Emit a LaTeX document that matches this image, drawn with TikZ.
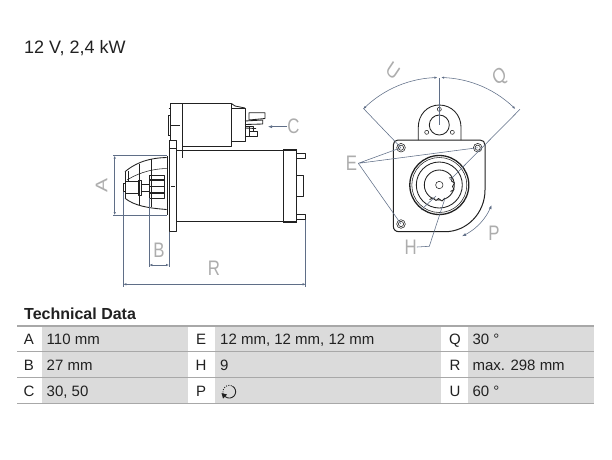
\documentclass[tikz,border=0pt]{standalone}
\usepackage{fontspec}
\setmainfont{Liberation Sans}
\usetikzlibrary{arrows.meta}
\definecolor{ink}{gray}{0.13}
\definecolor{dimc}{RGB}{95,110,135}
\definecolor{lab}{gray}{0.68}
\definecolor{cellg}{gray}{0.86}
\definecolor{ruleg}{gray}{0.66}
\tikzset{
 part/.style={draw=ink,line width=0.85pt,line join=round},
 thin part/.style={draw=ink,line width=0.55pt},
 heavy/.style={draw=ink,line width=1.3pt},
 dimline/.style={draw=dimc,line width=0.55pt},
 dimarrow/.style={dimline,{Latex[length=3pt,width=2.4pt]}-{Latex[length=3pt,width=2.4pt]}},
 leader/.style={dimline},
 biglabel/.style={text=lab,font=\fontsize{21}{21}\selectfont,inner sep=0pt,xscale=0.8},
 cell/.style={fill=cellg,draw=none},
 rulel/.style={draw=ruleg,line width=1.4pt},
 key/.style={text=ink,font=\fontsize{15}{17}\selectfont,inner sep=0pt,anchor=base},
 val/.style={text=ink,font=\fontsize{15}{17}\selectfont,inner sep=0pt,anchor=base west},
}
\begin{document}
\begin{tikzpicture}[x=1pt,y=-1pt]
\useasboundingbox (0,0) rectangle (612,459);
\fill[white] (0,0) rectangle (612,459);
\node[anchor=base west,text=ink,inner sep=0pt,font=\fontsize{18}{20}\selectfont] (title) at (24,53.5) {12 V, 2,4 kW};

% ---------- side view: solenoid
\draw[part] (170,103.7) -- (231.7,103.7) -- (231.7,146) -- (182,146);
\draw[part] (170,103.7) -- (170,140);
\draw[part] (182,103.7) -- (182,157.5);
\draw[part] (231.7,108) -- (245,108) -- (245,141.7) -- (231.7,141.7);
\draw[part] (231.7,103.7) -- (235,106) -- (245,108);
\draw[thin part] (168.5,108) -- (170,108) (168.5,115) rectangle (170,135);
\draw[thin part] (170,125) -- (180,125);
\draw[part] (249,112.7) -- (265,112.7) -- (265,118.5) -- (249,120) -- cycle;
\draw[part] (245,121) -- (262.7,120) -- (262.7,124) -- (245,124.5);
\draw[part] (245,126) -- (253,126) -- (253,131) (249,127) -- (249,131.5);
\draw[part] (249,131.7) -- (257.7,131.7) -- (257.7,136.7) -- (249,136.7) -- cycle;
\draw[part] (245,136.5) -- (250,136.5) (245,128) -- (256,128.5);

% ---------- side view: motor
\draw[part] (169,140) rectangle (176.7,231.7);
\draw[thin part] (169,148) -- (176,148) (171,186) -- (175,186);
\draw[part] (176.7,150.3) -- (283.3,150.3);
\draw[part] (176.7,221.7) -- (283.3,221.7);
\draw[heavy] (283.3,150) rectangle (296.7,222);
\draw[part] (296.7,153.3) -- (305.7,153.3) -- (305.7,158.3) -- (296.7,158.3);
\draw[part] (296.7,214.3) -- (305.7,214.3) -- (305.7,219.3) -- (296.7,219.3);
\draw[part] (296.7,175) -- (303.3,175) -- (303.3,196.7) -- (296.7,196.7);

% ---------- side view: drive nose
\draw[heavy] (167.5,156) -- (167.5,215);
\draw[part] (125,171.7) .. controls (133,165) and (145,158) .. (166.7,157.5);
\draw[part] (125,198.3) .. controls (135,206) and (148,208) .. (166.7,209.5);
\draw[part] (125,171.7) -- (125,198.3);
\draw[thin part] (127,180) .. controls (135,175) and (148,169) .. (166.7,168.5);
\draw[thin part] (139,163.5) -- (139,205) (151.7,159) -- (151.7,207) (128,171) -- (128,181);
\draw[part] (125,181.7) -- (138.3,181.7) -- (138.3,193.3) -- (125,193.3);
\draw[part] (123.3,183) rectangle (125,191.5);
\draw[part] (138.3,180) rectangle (141.5,195);
\draw[part] (141.5,184) -- (149.5,184) (141.5,191) -- (149.5,191);
\draw[part] (149.3,175) rectangle (164,198.5);
\draw[line width=1.5pt,draw=ink] (150,180) -- (164,180) (150,186.5) -- (164,186.5) (150,193) -- (164,193);

% ---------- side view: dimensions
\coordinate (aT) at (113,155.7); \coordinate (aTe) at (167,155.7);
\coordinate (aB) at (113,215); \coordinate (aBe) at (167,215);
\coordinate (aTa) at (114.7,155.7); \coordinate (aBa) at (114.7,215);
\draw[dimline] (aT) -- (aTe) (aB) -- (aBe);
\draw[dimarrow] (aTa) -- (aBa);
\coordinate (bL) at (149.3,265); \coordinate (bR) at (169,265);
\coordinate (bLt) at (149.3,198); \coordinate (bRt) at (169,232);
\draw[dimline] (bLt) -- (149.3,267) (bRt) -- (169,267);
\draw[dimarrow] (bL) -- (bR);
\coordinate (rL) at (123.3,284.3); \coordinate (rR) at (305.7,284.3);
\coordinate (rLt) at (123.3,192); \coordinate (rRt) at (305.7,219.5);
\draw[dimline] (rLt) -- (123.3,286.5) (rRt) -- (305.7,286.5);
\draw[dimarrow] (rL) -- (rR);
\node[biglabel,rotate=90] (lA) at (101.7,185) {A};
\node[biglabel] (lB) at (159,250) {B};
\node[biglabel] (lR) at (214,268) {R};
\node[biglabel] (lC) at (293.5,126.7) {C};
\coordinate (cTip) at (268,126.7); \coordinate (cEnd) at (287,126.7);
\draw[dimline,-{Latex[length=4pt,width=3pt]}] (cEnd) -- (cTip);

% ---------- end view: housing
\draw[part] (418.3,140) -- (418.3,127) .. controls (418.3,115) and (427,105) .. (439.3,105)
  .. controls (451.7,105) and (461,115) .. (461,127) -- (461,140);
\draw[part] (439.3,125) circle[radius=10];
\draw[thin part] (439.3,109.3) circle[radius=2] (426.7,132.3) circle[radius=2] (452.3,132.3) circle[radius=2];
\draw[part,line width=1pt] (398,140) -- (480,140) .. controls (483,140) and (485,142) .. (485,145)
  -- (485,190) .. controls (485,213) and (467,231.7) .. (445,231.7)
  -- (399,231.7) .. controls (395.5,231.7) and (393.3,229.5) .. (393.3,226)
  -- (393.3,145) .. controls (393.3,142) and (395,140) .. (398,140) -- cycle;
\foreach \hx/\hy in {401/147.7,477.7/147.7,401/224}{
  \draw[thin part] (\hx,\hy) circle[radius=4.3];
  \draw[thin part] (\hx,\hy) circle[radius=2.6];
}
\draw[heavy] (439.3,185) circle[radius=29.5];
\draw[thin part] (439.3,185) circle[radius=27.5];
\draw[part] (439.3,185) circle[radius=23];
\draw[part] (439.3,185) circle[radius=15];
\draw[thin part] (439.3,185) circle[radius=3.7];
% pinion teeth
\draw[part,fill=white] (449,178) -- (452.5,177.5) -- (451.5,181) -- (454.5,183) -- (452.5,186.5) -- (454,189.5) -- (450.5,191.5);
\draw[part,fill=white] (445,198) -- (442,201) -- (438.5,198.5) -- (436,200.5) -- (433,198) -- (429.5,199.5);

% ---------- end view: dimension lines
\coordinate (uEnd) at (363.3,108.3);
\coordinate (qEnd) at (520,109.3);
\coordinate (arcTop) at (439.3,78);
\coordinate (h1) at (401,147.7); \coordinate (h2) at (477.7,147.7); \coordinate (h3) at (401,224);
\draw[leader] (uEnd) -- (h1);
\draw[leader] (qEnd) -- (450,180);
\draw[leader] (421,210) -- (436,196);
\draw[leader] (arcTop) -- (439.3,125);
\draw[dimline,{Latex[length=3pt,width=2.4pt]}-{Latex[length=3pt,width=2.4pt]}]
  plot[domain=225:269,samples=24] ({439.3+107.5*cos(\x)},{185+107.5*sin(\x)});
\draw[dimline,{Latex[length=3pt,width=2.4pt]}-{Latex[length=3pt,width=2.4pt]}]
  plot[domain=271:315,samples=24] ({439.3+107.5*cos(\x)},{185+107.5*sin(\x)});
\node[biglabel,rotate=-40] (lU) at (393,70.7) {U};
\node[biglabel,rotate=35] (lQ) at (500,77) {Q};
\node[biglabel] (lE) at (351.5,163) {E};
\coordinate (eJoin) at (358.3,163.3);
\draw[leader] (eJoin) -- (h1) (eJoin) -- (h2) (eJoin) -- (h3);
\node[biglabel] (lH) at (410.7,247) {H};
\coordinate (hTip) at (445,198.3); \coordinate (hKnee) at (429.3,246.3);
\draw[leader] (lH.east) -- (hKnee) -- (hTip);
\node[biglabel] (lP) at (494,233) {P};
\draw[dimline,{Latex[length=4pt,width=3pt]}-{Latex[length=4pt,width=3pt]}]
  plot[domain=21:66,samples=24] ({439.3+56*cos(\x)},{185+56*sin(\x)});

% ---------- table
\node[anchor=base west,inner sep=0pt,text=ink,font=\bfseries\fontsize{16}{18}\selectfont] (tech) at (24,319.5) {Technical Data};
\fill[cell] (42.3,326) rectangle (187.7,403.3);
\fill[cell] (215,326) rectangle (440.7,403.3);
\fill[cell] (468.3,326) rectangle (594,403.3);
\foreach \ry in {326,351.7,377.7,403.3}{\draw[rulel] (17,\ry) -- (594,\ry);}

\node[key] (kA) at (29,344.5) {A};   \node[val] (vA) at (46.5,344.5) {110 mm};
\node[key] (kB) at (29,370.5) {B};   \node[val] (vB) at (46.5,370.5) {27 mm};
\node[key] (kC) at (29,396) {C};   \node[val] (vC) at (46.5,396) {30, 50};
\node[key] (kE) at (201,344.5) {E};  \node[val] (vE) at (220,344.5) {12 mm, 12 mm, 12 mm};
\node[key] (kH) at (201,370.5) {H};  \node[val] (vH) at (220,370.5) {9};
\node[key] (kP) at (201,396) {P};
\node[key] (kQ) at (455,344.5) {Q};  \node[val] (vQ) at (472.3,344.5) {30 °};
\node[key] (kR) at (455,370.5) {R};  \node[val] (vR) at (472.3,370.5) {max. 298 mm};
\node[key] (kU) at (455,396) {U};  \node[val] (vU) at (472.3,396) {60 °};
% rotation icon
\draw[draw=ink,line width=0.9pt]
  plot[domain=-60:130,samples=24] ({229.3+6.3*cos(\x)},{391.7+6.3*sin(\x)});
\draw[draw=ink,line width=0.9pt,dash pattern=on 1pt off 1.4pt]
  plot[domain=130:300,samples=24] ({229.3+6.3*cos(\x)},{391.7+6.3*sin(\x)});
\fill[ink] (221.5,393) -- (227,394.5) -- (223,398.5) -- cycle;
\end{tikzpicture}
\end{document}
